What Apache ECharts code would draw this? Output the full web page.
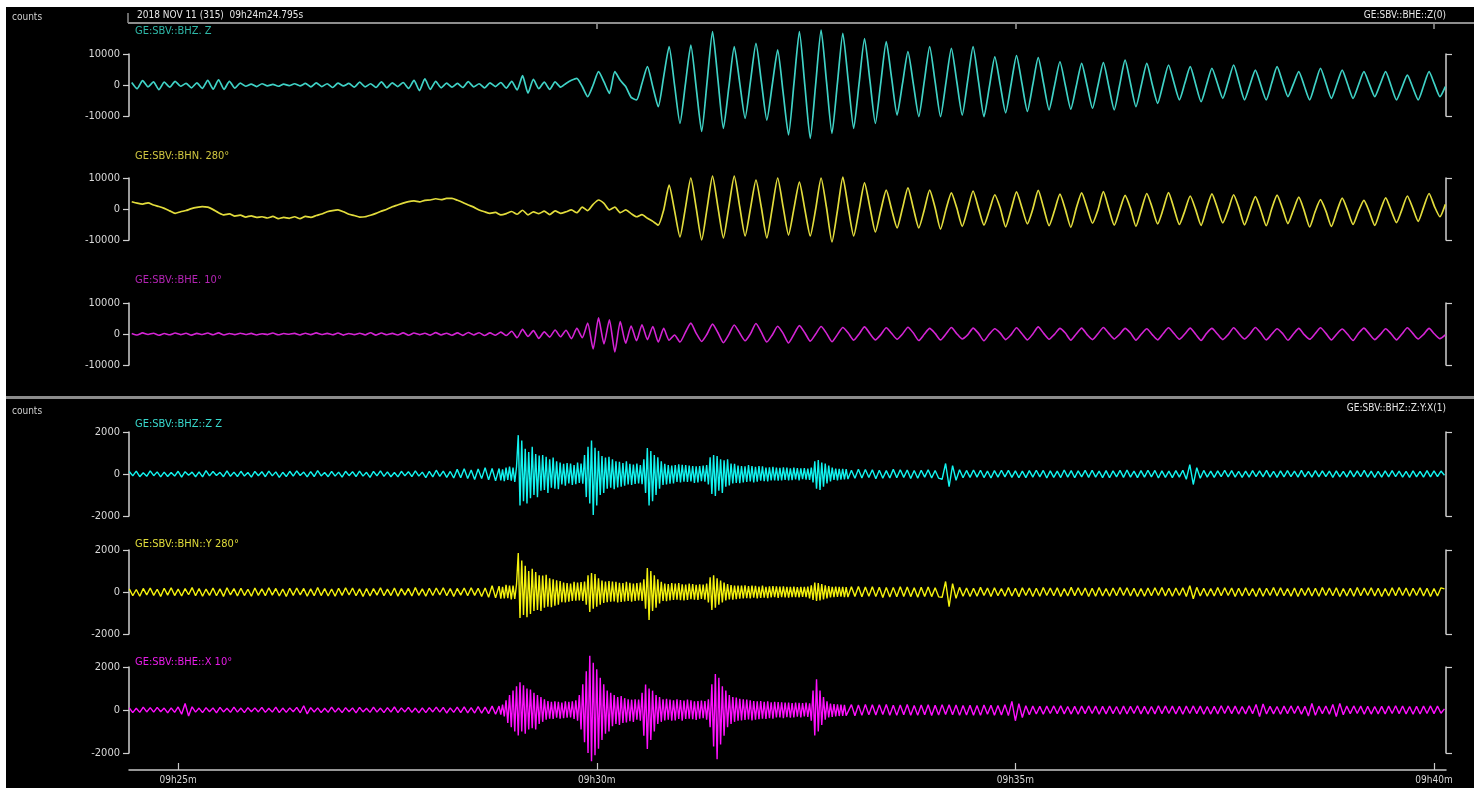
<!DOCTYPE html>
<html><head><meta charset="utf-8">
<script src="https://cdn.jsdelivr.net/npm/echarts@6/dist/echarts.min.js"></script>
<style>html,body{margin:0;padding:0;background:#fff}#c{width:1480px;height:790px}</style>
</head><body><div id="c"></div>
<script>
// ---- time base (seconds relative to 09h25m00s) ----
const X_MIN = -35.205, X_MAX = 908.6;
const T0_TOP = -33.25, DT_TOP = 3.89;   // upper panel sampling
const T0_BOT = -35, DT_BOT = 2.5;       // lower panel sampling
const FINE_T0 = 230, FINE_DT = 1.25, FINE_END = 480;  // denser lower-panel samples in the burst window
const tickTimes = [0, 300, 600, 900];
const tickLabels = ['09h25m', '09h30m', '09h35m', '09h40m'];
const topTickTimes = [300, 600, 900];
const headerLeft = '2018 NOV 11 (315)  09h24m24.795s';
const headerRightTop = 'GE:SBV::BHE::Z(0)';
const headerRightBot = 'GE:SBV::BHZ::Z:Y:X(1)';
const unitLabel = 'counts';
const chanLabels = ['GE:SBV::BHZ. Z', 'GE:SBV::BHN. 280\u00b0', 'GE:SBV::BHE. 10\u00b0',
  'GE:SBV::BHZ::Z Z', 'GE:SBV::BHN::Y 280\u00b0', 'GE:SBV::BHE::X 10\u00b0'];

// ---- upper panel (raw channels, counts) ----
const topZ = [
800,-1200,1400,-600,1000,-1500,900,-700,1200,-400,
500,-900,700,-1100,1500,-1300,1700,-1400,1200,-1000,
600,-400,300,-500,400,-300,200,-400,300,-200,
400,-300,500,-600,700,-500,400,-800,600,-300,
500,-700,900,-600,400,-800,1000,-900,700,-500,
800,-1100,1500,-1800,2000,-1400,1200,-900,600,-700,
500,-800,1100,-600,400,-900,700,-500,800,-1000,
1200,-1600,3000,-2600,1800,-1200,900,-1400,1000,-700,
500,1500,2150,-500,-3760,0,4300,1000,-2700,4300,1500,-500,-4000,-4800,500,
5900,-600,-7000,2700,12400,0,-12400,250,12900,-1000,
-15000,1100,17200,1600,-14000,-800,12400,800,-10750,1300,
13400,1000,-11300,0,11300,-2400,-16100,500,17200,0,
-17200,250,17700,1000,-15600,500,16700,1300,-14000,500,
15000,1300,-12400,800,14000,2100,-9700,500,10750,300,
-10200,1100,12400,1100,-10200,800,11800,1050,-9700,1350,
12400,1100,-10200,-550,9100,50,-9000,250,9500,500,
-8500,150,8800,400,-8000,-250,7500,-150,-7800,-400,
7000,-250,-7500,-150,7200,-400,-8000,0,8000,500,
-7000,0,7000,250,-5900,300,6450,800,-4800,550,
5900,250,-5400,0,5400,550,-4300,1050,6450,800,
-4800,0,4800,0,-4800,550,5900,1050,-3760,270,
4300,-250,-4800,300,5400,550,-4300,250,4800,250,
-4300,0,4300,270,-3760,270,4300,-250,-4800,-800,
3200,-800,-4800,-250,4300,270,-3760,-500];

const topN = [
2350,1900,1600,2000,1300,800,200,-600,-1400,-900,
-500,100,500,750,600,-200,-1200,-1900,-1600,-2300,
-2000,-2600,-2200,-2700,-2500,-2900,-2400,-3100,-2700,-3000,
-2500,-3100,-2400,-2700,-2100,-1600,-900,-500,-300,-900,
-1700,-2100,-2600,-2500,-2000,-1400,-700,-100,700,1300,
1900,2400,2600,2300,2800,2900,3300,3000,3400,3400,
2800,2100,1300,600,-300,-900,-1400,-1100,-1900,
-1500,-800,-1700,-400,-1900,-900,-1500,-700,-1800,-600,
-1400,-900,-300,-1200,600,-500,1500,2900,1800,-300,
600,-1200,-300,-1500,-2500,-1800,-3000,-4000,
-5200,-300,7700,-500,-9000,300,10000,200,-10000,300,
10600,500,-9350,600,10600,800,-8700,300,9350,400,
-9350,300,10000,700,-8400,200,8700,-100,-8700,0,
10000,400,-10600,-600,10300,400,-8700,-300,8400,500,
-7400,-400,6100,-200,-6100,300,6800,200,-6100,-300,
6100,400,-6500,-200,5200,300,-5600,0,5800,200,
-5200,-400,4600,300,-5800,-200,5500,400,-4800,0,
6000,300,-5400,-500,4800,-200,-5900,200,5200,300,
-4600,-300,5600,100,-5200,-400,4400,200,-5600,-200,
5000,400,-4800,-100,5300,200,-5000,-600,4200,-200,
-5300,100,4900,300,-4500,-300,4600,200,-5100,-500,
4000,-300,-5400,0,4500,200,-4700,-400,3800,-600,
-5800,-900,3000,-700,-5600,-800,3500,-500,-5000,-700,
2800,-900,-5300,-600,3600,-400,-4400,-200,4200,300,
-4000,600,5000,800,-2500,1500];

const topE = [
200,-300,350,-150,250,-400,150,-250,300,-200,
250,-350,200,-150,300,-250,350,-300,150,-200,
250,-150,200,-300,100,-200,300,-250,150,-100,
200,-300,250,-200,350,-150,200,-250,300,-350,
150,-200,250,-300,400,-350,300,-250,200,-300,
350,-400,300,-200,250,-350,450,-300,250,-400,
350,-450,500,-300,400,-500,350,-400,600,-500,
900,-1200,1500,-800,1100,-1400,700,-1000,1300,-900,1200,-1500,1800,-1200,
3500,-4800,5200,-3200,4600,-5800,4000,
-3000,2600,-2200,3000,-1800,2400,-2600,1800,-2000,
-300,-2600,500,3500,200,-2400,0,3200,400,-2800,-200,2900,300,-2200,100,3400,500,-2600,
-300,2500,200,-2900,-100,2700,400,-2300,0,2400,200,-2500,-200,2100,300,-2000,0,2300,
100,-1900,-200,2000,200,-1700,0,2200,300,-2100,
-100,1800,200,-1900,0,2100,100,-1600,-300,1900,
200,-2200,0,1700,300,-1800,-200,2000,100,-1900,
0,2300,200,-1700,-100,1800,300,-2000,0,1900,
-200,-1800,100,2100,200,-1600,-100,1800,300,-2000,
0,1700,-200,-1900,100,2000,200,-1700,0,1900,
-100,-2100,200,1800,0,-1800,-200,2000,100,-1600,
0,2100,300,-1900,-100,1700,200,-2000,0,1800,
-200,-1700,100,2000,200,-1900,0,1600,-100,-2100,
200,1900,0,-1800,-200,1700,100,-1900,0,2000,
200,-1600,-100,1800,0,-1500,-300];

// ---- lower panel (rotated Z / Y / X, counts), coarse samples ----
const botZ = [
120,-90,140,-130,60,-110,150,-80,100,-140,90,-120,70,-100,130,-150,110,-60,90,-130,
100,-140,160,-90,120,-70,80,-130,150,-110,90,-120,130,-100,70,-150,120,-80,110,-130,
140,-90,100,-160,80,-120,130,-100,150,-70,90,-140,110,-120,160,-90,70,-130,120,-100,
90,-150,130,-80,110,-120,140,-100,80,-160,120,-90,150,-110,100,-130,70,-140,130,-90,
110,-120,150,-100,90,-170,130,-140,180,-110,140,-160,120,-190,220,-180,250,-210,190,-260,
240,-220,300,-280,260,-330,290,-250,350,-300,280,1850,-1500,1400,-1200,1100,-900,800,-1000,700,
-800,600,-700,500,-450,400,-500,450,-380,500,-420,1100,-1950,1600,-1400,1000,-800,850,-700,650,
-600,550,-500,600,-450,400,-500,1240,-1500,1000,-900,700,-500,450,-400,500,-350,400,-450,350,
-400,300,-350,400,-300,350,-400,900,-1000,800,-700,600,-500,400,-350,300,-400,350,-300,380,
-320,280,-350,300,-250,330,-280,300,-260,250,-300,280,-240,300,-260,250,-400,670,-760,550,
-450,350,-300,250,-220,200,-240,180,-200,230,-190,210,-170,200,-230,180,-200,160,-190,220,
-180,200,-160,190,-210,170,-200,180,-150,200,-190,170,-200,-250,500,-600,400,-300,200,-180,
170,-160,190,-150,180,-170,140,-190,160,-150,180,-140,170,-160,150,-180,140,-170,160,-150,
180,-140,170,-190,150,-160,140,-170,190,-150,160,-180,150,-140,170,-160,180,-150,140,-170,
160,-180,150,-140,170,-160,190,-150,140,-170,160,-150,180,-140,170,-190,150,-160,140,-170,
160,-150,180,-250,450,-500,300,-200,170,-150,140,-160,150,-130,170,-140,160,-150,130,-160,
140,-150,160,-130,150,-140,170,-150,130,-160,150,-140,160,-130,140,-150,170,-140,130,-150,
160,-140,150,-130,140,-160,150,-140,130,-150,160,-140,150,-130,170,-150,140,-160,130,-150,
150,-140,160,-130,140,-150,130,-160,150,-140,130,-150,160,-140,150,-130,140,-60];

const botN = [
150,-180,120,-200,170,-140,190,-160,130,-210,180,-150,200,-170,140,-190,160,-130,210,-180,
170,-200,140,-160,190,-180,150,-210,200,-140,160,-190,180,-170,130,-200,190,-160,150,-180,
200,-150,170,-190,140,-210,180,-160,190,-140,170,-200,150,-180,210,-170,160,-190,140,-200,
180,-160,200,-140,190,-180,150,-210,170,-190,160,-150,200,-180,140,-170,190,-200,160,-150,
170,-190,210,-160,150,-200,180,-170,190,-140,200,-180,160,-210,170,-150,190,-180,200,-160,
180,-210,190,-250,300,-280,260,-320,290,-300,340,1860,-1240,1500,-1100,1000,-900,900,-800,700,
-700,600,-600,500,-450,400,-480,420,-400,450,-380,-430,900,-950,800,-700,550,-500,480,-520,
500,-450,480,-420,500,-460,400,1140,-1330,900,-800,600,-450,400,-380,420,-360,400,-350,380,
-400,350,-380,400,-340,360,-300,800,-860,600,-600,500,-350,300,-280,320,-300,260,-300,280,
-260,300,-280,250,-300,270,-240,290,-260,250,-280,300,-250,270,-240,280,-300,450,-430,400,
-380,300,-250,230,-260,220,-240,250,-210,260,-230,240,-200,250,-220,230,-260,210,-240,220,
-230,250,-210,240,-220,200,-250,230,-210,240,-220,200,-230,-250,500,-700,400,-300,220,-200,
190,-210,180,-200,220,-170,190,-210,200,-180,170,-200,210,-190,180,-220,200,-170,190,-210,
180,-200,210,-170,190,-180,200,-210,170,-190,220,-180,200,-170,190,-210,180,-200,210,-190,
170,-200,190,-180,210,-170,200,-190,180,-210,170,-200,190,-180,200,-170,210,-190,180,-200,
190,-170,200,-210,300,-320,220,-190,180,-200,170,-190,210,-180,200,-170,190,-210,180,-190,
200,-180,170,-210,190,-200,180,-170,210,-190,200,-180,170,-200,190,-210,180,-170,200,-190,
180,-200,210,-170,190,-180,200,-210,170,-190,180,-200,210,-180,190,-170,200,-190,180,-210,
170,-190,200,-180,210,-170,190,-200,180,-170,200,-190,180,-210,170,-190,200,150];

const botE = [
100,-120,80,-110,130,-90,110,-100,120,-80,90,-130,100,-110,140,-200,300,-280,150,-100,
90,-120,110,-80,100,-130,120,-90,80,-110,130,-100,90,-120,110,-80,100,-90,120,-110,
80,-100,130,-120,90,-110,100,-80,120,-130,200,-180,110,-90,100,-120,80,-110,130,-100,
90,-120,110,-80,100,-130,120,-90,80,-110,130,-100,90,-120,110,-100,140,-120,100,-90,
120,-110,90,-130,100,-120,110,-90,130,-100,120,-140,100,-110,130,-120,150,-130,110,-140,
160,-150,130,-170,180,-200,250,-300,600,-800,1100,-1190,1290,-1000,900,-1100,800,-700,600,-500,
450,-400,350,-420,380,-400,450,-380,420,-500,1500,-1800,2520,-2380,2000,-1900,1400,-1300,900,-1000,
800,-700,600,-650,550,-600,500,1190,-1810,1000,-1200,700,-600,500,-450,480,-500,420,-450,400,
-480,450,-420,500,-450,400,-500,1200,-1700,1670,-2290,1100,-900,700,-650,600,-550,500,-480,450,
-420,400,-380,420,-360,350,-400,380,-340,360,-320,350,-300,340,-320,300,-500,1430,-1190,900,
-700,400,-300,260,-240,280,-220,250,-270,230,-250,260,-220,240,-230,250,-210,260,-240,220,
-250,230,-220,260,-240,210,-250,230,-220,240,-260,220,-230,250,-210,240,-220,230,-250,210,
-230,220,-240,210,-250,230,-200,220,-240,210,-230,250,-260,400,-500,300,-350,200,-220,180,
-190,170,-200,180,-160,190,-170,200,-180,160,-190,170,-200,180,-170,190,-160,180,-200,170,
-180,190,-170,160,-200,180,-190,170,-160,200,-180,170,-190,160,-180,200,-170,190,-160,180,
-190,170,-200,180,-160,190,-170,180,-200,160,-190,170,-180,200,-160,190,-170,180,-190,160,
-180,200,-170,260,-300,280,-190,170,-180,160,-200,180,-170,190,-160,180,-200,170,-280,300,
-250,180,-170,190,-200,260,-300,310,-220,180,-170,190,-160,180,-200,170,-190,160,-180,170,
-190,180,-160,200,-170,190,-180,160,-200,170,-190,180,-160,190,-170,180,-150,50];

// ---- lower panel, dense samples in the burst window (t 230 s .. 480 s) ----
const botZFine = [
260,-300,220,-340,310,-280,350,-320,300,-380,340,1850,-1500,1600,-1300,1200,-1400,1050,-1150,1300,
-1000,950,-1100,880,-800,900,-760,820,-900,700,-650,780,-700,600,-720,550,-500,480,-560,520,
-450,500,-520,430,-480,550,-420,500,-460,900,-1100,1300,-1400,1600,-1950,1250,-1500,1100,-1000,850,
-900,780,-700,820,-650,700,-720,600,-640,580,-600,520,-560,600,-500,480,-520,450,-470,500,
-450,420,-480,700,-900,1240,-1500,1100,-1300,900,-1000,800,-700,600,-520,480,-500,430,-460,400,
-450,420,-380,460,-400,440,-360,420,-380,400,-350,380,-420,360,-400,380,-340,400,-360,420,
-500,800,-950,900,-1050,850,-800,700,-900,650,-600,700,-550,500,-450,480,-420,400,-440,380,
-400,360,-380,420,-350,380,-400,340,-360,380,-320,360,-340,300,-350,320,-300,340,-310,300,
-320,290,-300,320,-280,300,-310,270,-290,300,-260,280,-300,270,-250,280,-270,260,-280,300,
-400,600,-700,670,-760,550,-600,500,-450,400,-350,300,-280,260,-300,250,-270,240,-260,230];

const botNFine = [
280,-320,250,-300,340,-290,310,-350,300,-330,360,1860,-1240,1500,-1100,1250,-1200,1000,-1050,1100,
-900,950,-850,800,-900,780,-750,820,-700,650,-720,600,-650,560,-600,520,-480,450,-500,420,
-460,400,-430,480,-410,450,-400,470,-430,500,-600,800,-950,900,-800,850,-700,650,-600,550,
-520,500,-480,520,-460,500,-450,480,-500,440,-470,420,-450,480,-420,440,-460,400,-430,420,
-400,450,-420,600,-800,1140,-1330,1000,-900,800,-750,600,-550,480,-420,400,-440,380,-400,420,
-380,400,-360,420,-390,370,-400,350,-380,400,-340,380,-360,340,-380,360,-330,350,-370,400,
-500,700,-860,800,-750,650,-600,550,-500,450,-400,380,-350,330,-360,310,-340,300,-320,310,
-300,320,-290,280,-310,300,-270,290,-300,260,-280,300,-270,250,-290,270,-260,280,-250,270,
-280,260,-250,270,-260,240,-270,250,-240,260,-250,230,-260,240,-230,250,-240,260,-300,320,
-380,450,-430,420,-400,380,-350,320,-300,280,-260,250,-240,260,-230,250,-220,240,-250,230];

const botEFine = [
180,-220,250,-300,450,-600,700,-800,900,-1000,1100,-1190,1290,-1000,1150,-1100,1000,-900,950,-850,
800,-900,700,-650,600,-550,500,-450,420,-400,380,-420,400,-360,380,-400,350,-380,400,-360,
380,-350,400,-420,450,-500,700,-900,1200,-1500,1800,-2000,2520,-2380,2200,-2100,1900,-1800,1500,-1400,
1200,-1100,900,-1000,800,-750,700,-650,600,-700,650,-600,550,-580,500,-520,480,-550,500,-450,
480,-500,800,-1200,1190,-1810,1000,-1400,900,-1000,700,-650,600,-550,500,-480,520,-450,480,-500,
450,-480,500,-420,460,-500,440,-420,480,-400,450,-430,400,-460,420,-400,440,-380,420,-450,
500,-800,1200,-1700,1670,-2290,1500,-1600,1100,-1200,900,-800,700,-650,600,-550,580,-500,520,-480,
500,-460,480,-440,450,-480,420,-450,400,-430,420,-400,380,-420,400,-380,360,-400,380,-350,
370,-340,360,-380,350,-330,340,-360,320,-340,350,-310,330,-350,320,-300,340,-320,310,-500,
900,-1190,1430,-1000,900,-700,600,-450,400,-350,300,-320,280,-300,260,-280,250,-270,240,-260];

// ---- rendering ----
const FONT = "'DejaVu Sans Condensed','Liberation Sans Narrow','DejaVu Sans',sans-serif";
function uniform(vals, t0, dt) { return vals.map((v, i) => [t0 + i * dt, v]); }
function lowerTrace(coarse, fine) {
  const pts = [];
  coarse.forEach((v, i) => { const t = T0_BOT + i * DT_BOT; if (t < FINE_T0) pts.push([t, v]); });
  fine.forEach((v, j) => pts.push([FINE_T0 + j * FINE_DT, v]));
  coarse.forEach((v, i) => { const t = T0_BOT + i * DT_BOT; if (t >= FINE_END) pts.push([t, v]); });
  return pts;
}
const traces = [
  {data: uniform(topZ, T0_TOP, DT_TOP), lim: 10000, top: 54,  h: 62, color: '#3fd2c6', lw: 1.7, smooth: 0.2, lblColor: '#2fb8a8', lblY: 31},
  {data: uniform(topN, T0_TOP, DT_TOP), lim: 10000, top: 178, h: 62, color: '#e2dc3c', lw: 1.7, smooth: 0.2, lblColor: '#cfc640', lblY: 156},
  {data: uniform(topE, T0_TOP, DT_TOP), lim: 10000, top: 303, h: 62, color: '#d424d4', lw: 1.6, smooth: 0.2, lblColor: '#b424b4', lblY: 280},
  {data: lowerTrace(botZ, botZFine), lim: 2000, top: 432, h: 84, color: '#12f4f0', lw: 1.4, smooth: false, lblColor: '#38d8cc', lblY: 424},
  {data: lowerTrace(botN, botNFine), lim: 2000, top: 550, h: 84, color: '#f4f20e', lw: 1.4, smooth: false, lblColor: '#e0dc3a', lblY: 544},
  {data: lowerTrace(botE, botEFine), lim: 2000, top: 667, h: 86, color: '#ff10ff', lw: 1.4, smooth: false, lblColor: '#e81ce8', lblY: 662}
];
const AXC = '#cfcfcf';
const grid = [], xAxis = [], yAxis = [], series = [];
traces.forEach((tr, k) => {
  grid.push({left: 129, right: 34, top: tr.top, height: tr.h, containLabel: false});
  const xa = {gridIndex: k, type: 'value', min: X_MIN, max: X_MAX, show: false, splitLine: {show: false},
    axisLine: {onZero: false}};
  if (k === 0) {
    Object.assign(xa, {show: true, position: 'top', offset: tr.top - 23,
      axisLine: {show: true, onZero: false, lineStyle: {color: '#8e8e8e', width: 2}},
      axisTick: {show: true, inside: true, length: 6, customValues: topTickTimes, lineStyle: {color: '#9a9a9a', width: 1.5}},
      axisLabel: {show: false}});
  }
  if (k === 5) {
    Object.assign(xa, {show: true, position: 'bottom', offset: 770 - (tr.top + tr.h),
      axisLine: {show: true, onZero: false, lineStyle: {color: '#c8c8c8', width: 1.5}},
      axisTick: {show: true, inside: true, length: 7, customValues: tickTimes, lineStyle: {color: '#c8c8c8', width: 1.2}},
      axisLabel: {show: true, customValues: tickTimes, margin: 5, color: '#d6d6d6', fontSize: 10, fontFamily: FONT,
        formatter: v => tickLabels[tickTimes.indexOf(v)]}});
  }
  xAxis.push(xa);
  yAxis.push({gridIndex: k, type: 'value', position: 'left', min: -tr.lim, max: tr.lim, interval: tr.lim,
    splitLine: {show: false},
    axisLine: {show: true, onZero: false, lineStyle: {color: AXC, width: 1.5}},
    axisTick: {show: true, inside: false, length: 6, lineStyle: {color: AXC, width: 1.2}},
    axisLabel: {show: true, margin: 9, color: '#d8d8d8', fontSize: 11, fontFamily: FONT, formatter: v => String(v)}});
  yAxis.push({gridIndex: k, type: 'value', position: 'right', min: -tr.lim, max: tr.lim, interval: tr.lim,
    splitLine: {show: false},
    axisLine: {show: true, onZero: false, lineStyle: {color: AXC, width: 1.5}},
    axisTick: {show: true, inside: false, length: 6, customValues: [-tr.lim, tr.lim], lineStyle: {color: AXC, width: 1.2}},
    axisLabel: {show: false}});
  series.push({type: 'line', xAxisIndex: k, yAxisIndex: 2 * k, data: tr.data,
    showSymbol: false, symbol: 'none', smooth: tr.smooth, clip: false, animation: false, z: 3,
    lineStyle: {color: tr.color, width: tr.lw}});
});

function txt(x, y, text, color, size, align) {
  return {type: 'text', x: x, y: y, z: 20,
    style: {text: text, fill: color, fontSize: size, fontFamily: FONT,
      textAlign: align || 'left', align: align || 'left', textVerticalAlign: 'middle', verticalAlign: 'middle'}};
}
const graphic = [
  {type: 'rect', z: -100, shape: {x: 6, y: 7, width: 1468, height: 781}, style: {fill: '#000'}},
  {type: 'line', z: 5, shape: {x1: 128, y1: 23, x2: 1474, y2: 23}, style: {stroke: '#8e8e8e', lineWidth: 2}},
  {type: 'line', z: 5, shape: {x1: 128, y1: 13, x2: 128, y2: 23}, style: {stroke: '#8e8e8e', lineWidth: 1.5}},
  {type: 'rect', z: 5, shape: {x: 6, y: 396, width: 1468, height: 3}, style: {fill: '#8c8c8c'}},
  txt(12, 17, unitLabel, '#cfcfcf', 10),
  txt(12, 411, unitLabel, '#cfcfcf', 10),
  txt(137, 15, headerLeft, '#e6e6e6', 10),
  txt(1446, 15, headerRightTop, '#e6e6e6', 10, 'right'),
  txt(1446, 408, headerRightBot, '#e6e6e6', 10, 'right')
];
traces.forEach((tr, k) => graphic.push(txt(135, tr.lblY, chanLabels[k], tr.lblColor, 11)));

const chart = echarts.init(document.getElementById('c'), null, {renderer: 'canvas'});
chart.setOption({
  backgroundColor: '#ffffff',
  animation: false,
  grid: grid, xAxis: xAxis, yAxis: yAxis, series: series,
  graphic: graphic
});
</script></body></html>
